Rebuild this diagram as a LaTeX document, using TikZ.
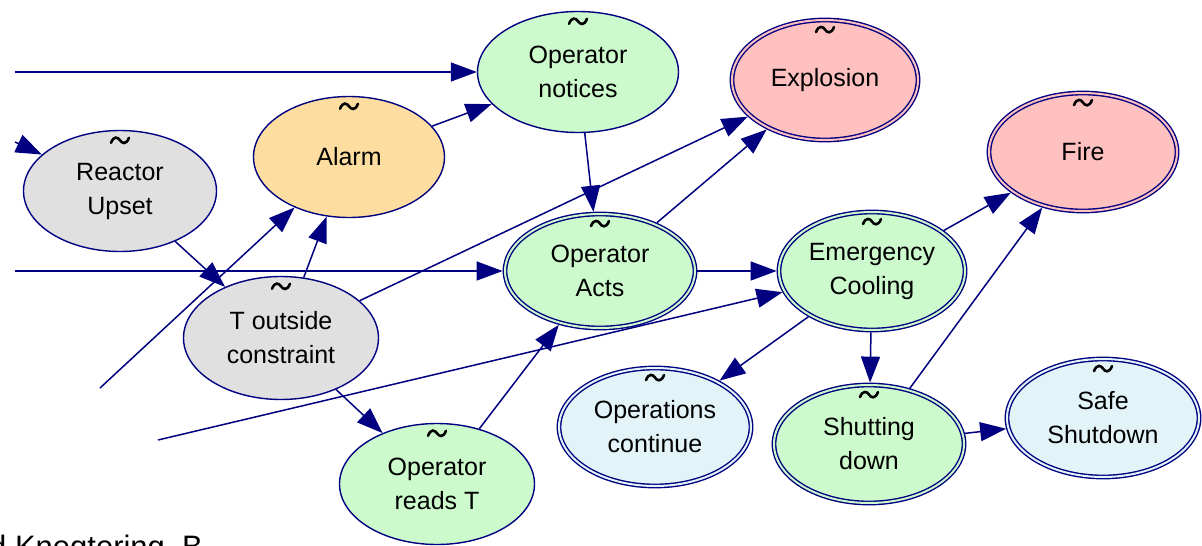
\documentclass[tikz,border=0pt]{standalone}
\usepackage{fontspec}
\setmainfont{Liberation Sans}
\usetikzlibrary{arrows.meta,shapes.geometric}
\definecolor{navy}{RGB}{0,0,128}
\definecolor{grayfill}{RGB}{224,224,224}
\definecolor{orangefill}{RGB}{253,222,160}
\definecolor{greenfill}{RGB}{204,250,204}
\definecolor{pinkfill}{RGB}{255,192,192}
\definecolor{bluefill}{RGB}{226,244,248}
\begin{document}
\begin{tikzpicture}[x=1pt,y=-1pt,
  every node/.style={font=\fontsize{25}{34}\selectfont, text=black},
  nd/.style={ellipse, draw=navy, line width=1.4pt, inner sep=0pt, align=center},
  single/.style={nd, fill=#1, outer sep=0.7pt},
  dbl/.style={nd, fill=#1, double=#1, double distance=2pt, outer sep=2.4pt},
  conn/.style={draw=navy, line width=1.5pt, -{Triangle[length=26pt,width=19pt]}},
  tilde/.pic={\draw[line width=2.6pt, line cap=round] (-9,2.5) .. controls (-6,-5) and (-2,-3) .. (0,0) .. controls (2,3) and (6,5) .. (9,-2.5);}
]
\useasboundingbox (0,0) rectangle (1202,546);
\fill[white] (0,0) rectangle (1202,546);

% nodes
\node[single=grayfill,   minimum width=193pt, minimum height=121pt] (RU) at (120,191) {Reactor\\Upset};
\node[single=orangefill, minimum width=191pt, minimum height=121pt] (AL) at (349,157) {Alarm};
\node[single=greenfill,  minimum width=201pt, minimum height=121pt] (ON) at (578,72) {Operator\\notices};
\node[single=grayfill,   minimum width=195pt, minimum height=123pt] (TO) at (281,338) {T outside\\constraint};
\node[single=greenfill,  minimum width=195pt, minimum height=121pt] (RT) at (437,484) {Operator\\reads T};
\node[dbl=pinkfill,  minimum width=186pt, minimum height=120pt] (EX) at (825,80) {Explosion};
\node[dbl=pinkfill,  minimum width=188pt, minimum height=118pt] (FI) at (1083,152) {Fire};
\node[dbl=greenfill, minimum width=190pt, minimum height=114pt] (OA) at (600,271) {Operator\\Acts};
\node[dbl=greenfill, minimum width=186pt, minimum height=118pt] (EC) at (872,271) {Emergency\\Cooling};
\node[dbl=bluefill,  minimum width=192pt, minimum height=118pt] (OC) at (655,427) {Operations\\continue};
\node[dbl=greenfill, minimum width=190pt, minimum height=118pt] (SD) at (869,444) {Shutting\\down};
\node[dbl=bluefill,  minimum width=192pt, minimum height=118pt] (SS) at (1103,418) {Safe\\Shutdown};

\foreach \n in {RU,AL,ON,TO,RT}
  \pic at ([yshift=-10.5pt]\n.north) {tilde};
\foreach \n in {EX,FI,OA,EC,OC,SD,SS}
  \pic at ([yshift=-12pt]\n.north) {tilde};

% free ends
\coordinate (c1) at (15,72);
\coordinate (c2) at (15,142);
\coordinate (c3) at (15,271);
\coordinate (c5) at (100,388);
\coordinate (c12) at (158,440);

% connectors
\draw[conn] (c1) -- (ON);
\draw[conn] (c2) -- (RU);
\draw[conn] (c3) -- (OA);
\draw[conn] (RU) -- (TO);
\draw[conn] (c5) -- (AL);
\draw[conn] (TO) -- (AL);
\draw[conn] (AL) -- (ON);
\draw[conn] (ON) -- (OA);
\draw[conn] (TO) -- (EX);
\draw[conn] (OA) -- (EX);
\draw[conn] (OA) -- (EC);
\draw[conn] (c12) -- (EC);
\draw[conn] (RT) -- (OA);
\draw[conn] (TO) -- (RT);
\draw[conn] (EC) -- (FI);
\draw[conn] (SD) -- (FI);
\draw[conn] (EC) -- (OC);
\draw[conn] (EC) -- (SD);
\draw[conn] (SD) -- (SS);

\node[anchor=base west, font=\fontsize{31}{37}\selectfont, inner sep=0pt] (credit) at (-11,557) {d Knegtering, B};
\end{tikzpicture}
\end{document}
